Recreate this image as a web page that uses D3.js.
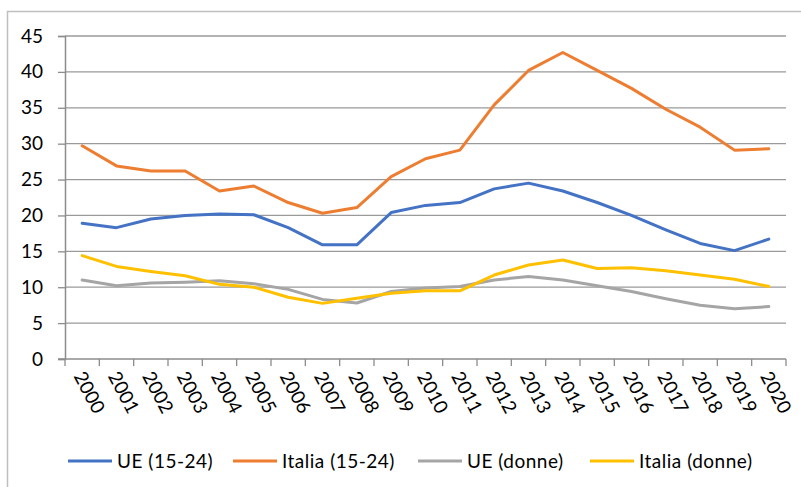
<!DOCTYPE html>
<html>
<head>
<meta charset="utf-8">
<script src="https://cdn.jsdelivr.net/npm/d3@7"></script>
<style>
html,body{margin:0;padding:0;background:#fff;}
svg{display:block;font-family:Lato,"Open Sans",sans-serif;}
</style>
</head>
<body>
<svg id="chart" width="801" height="487"></svg>
<script>
const years = ["2000","2001","2002","2003","2004","2005","2006","2007","2008","2009","2010","2011","2012","2013","2014","2015","2016","2017","2018","2019","2020"];
const ueGiovani     = [18.9,18.3,19.5,20.0,20.2,20.1,18.3,15.9,15.9,20.4,21.4,21.8,23.7,24.5,23.4,21.8,20.0,18.0,16.1,15.1,16.7];
const italiaGiovani = [29.7,26.9,26.2,26.2,23.4,24.1,21.8,20.3,21.1,25.4,27.9,29.1,35.4,40.2,42.7,40.2,37.7,34.8,32.3,29.1,29.3];
const ueDonne       = [11.0,10.2,10.6,10.7,10.9,10.5,9.7,8.3,7.8,9.4,9.9,10.1,11.0,11.5,11.0,10.2,9.4,8.4,7.5,7.0,7.3];
const italiaDonne   = [14.4,12.9,12.2,11.6,10.4,10.0,8.6,7.75,8.45,9.15,9.5,9.5,11.7,13.1,13.8,12.6,12.7,12.3,11.7,11.1,10.1];
const seriesNames = ["UE (15-24)","Italia (15-24)","UE (donne)","Italia (donne)"];
const seriesColors = ["#4472C4","#ED7D31","#A5A5A5","#FFC000"];
const yTicks = [0,5,10,15,20,25,30,35,40,45];

const seriesData = [ueGiovani, italiaGiovani, ueDonne, italiaDonne];

const svg = d3.select("#chart");

// outer frame (partially visible)
svg.append("path").attr("d","M7.5,487 V11.5 H801")
  .attr("fill","none").attr("stroke","#bfbfbf").attr("stroke-width",1.5);

const plot = {left:65, right:786, top:36, bottom:359};

const x = d3.scaleBand().domain(years).range([plot.left, plot.right]).paddingInner(0).paddingOuter(0);
const y = d3.scaleLinear().domain([0,45]).range([plot.bottom, plot.top]);

// gridlines
svg.append("g").selectAll("line").data(yTicks.filter(d=>d>0)).join("line")
  .attr("x1",plot.left).attr("x2",plot.right)
  .attr("y1",d=>y(d)).attr("y2",d=>y(d))
  .attr("stroke","#9a9a9a").attr("stroke-width",1.3);

// y axis
const yAxis = d3.axisLeft(y).tickValues(yTicks).tickSize(7).tickPadding(15);
const gy = svg.append("g").attr("transform",`translate(${plot.left},0)`).call(yAxis);
gy.select(".domain").attr("stroke","#8c8c8c").attr("stroke-width",1.5);
gy.selectAll(".tick line").attr("stroke","#8c8c8c").attr("stroke-width",1.3);
gy.selectAll(".tick text").attr("font-size",19).attr("fill","#000").attr("font-family","Lato");

// x axis
const gx = svg.append("g").attr("transform",`translate(0,${plot.bottom})`);
gx.append("line").attr("x1",plot.left-7).attr("x2",plot.right).attr("y1",0).attr("y2",0)
  .attr("stroke","#8c8c8c").attr("stroke-width",1.5);
const bounds = years.map(d=>x(d)).concat([plot.right]);
gx.selectAll("line.tk").data(bounds).join("line").attr("class","tk")
  .attr("x1",d=>d).attr("x2",d=>d).attr("y1",0).attr("y2",7)
  .attr("stroke","#8c8c8c").attr("stroke-width",1.3);
gx.selectAll("text").data(years).join("text")
  .attr("transform",d=>`translate(${x(d)+x.bandwidth()/2-9},${17}) rotate(62)`)
  .attr("font-size",19).attr("fill","#000").attr("font-family","Lato")
  .text(d=>d);

// lines
const line = d3.line().x((d,i)=>x(years[i])+x.bandwidth()/2).y(d=>y(d));
svg.append("g").selectAll("path").data(seriesData).join("path")
  .attr("d",d=>line(d)).attr("fill","none")
  .attr("stroke",(d,i)=>seriesColors[i]).attr("stroke-width",3)
  .attr("stroke-linejoin","round").attr("stroke-linecap","round");

// legend
const legendX = [68,233,418,590];
const lg = svg.append("g").selectAll("g").data(seriesNames).join("g")
  .attr("transform",(d,i)=>`translate(${legendX[i]},461)`);
lg.append("line").attr("x1",0).attr("x2",44).attr("y1",0).attr("y2",0)
  .attr("stroke",(d,i)=>seriesColors[i]).attr("stroke-width",3);
lg.append("text").attr("x",49).attr("y",6.5).attr("font-size",19)
  .attr("letter-spacing",0.5)
  .attr("font-family","Lato").attr("fill","#000").text(d=>d);
</script>
</body>
</html>
